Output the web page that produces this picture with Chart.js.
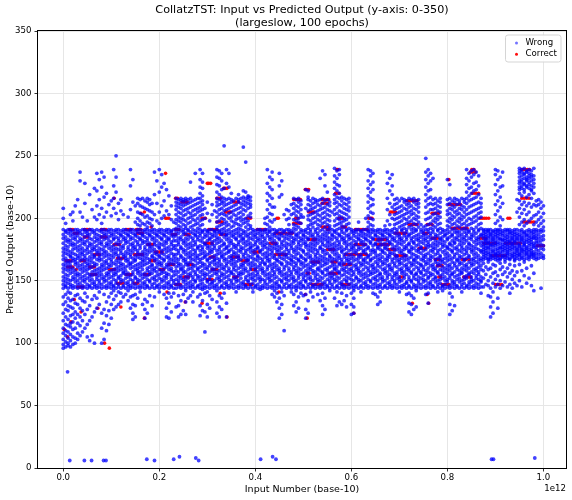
<!DOCTYPE html>
<html><head><meta charset="utf-8">
<script src="https://cdn.jsdelivr.net/npm/chart.js@4.4.0/dist/chart.umd.min.js"></script>
<style>html,body{margin:0;padding:0;background:#fff}canvas{display:block}</style>
</head><body>
<canvas id="c" width="572" height="500"></canvas>
<script>
const titleLines = ["CollatzTST: Input vs Predicted Output (y-axis: 0-350)", "(largeslow, 100 epochs)"];
const xTickValues = [0.0, 0.2, 0.4, 0.6, 0.8, 1.0];
const yTickValues = [0, 50, 100, 150, 200, 250, 300, 350];
const seriesNames = ["Wrong", "Correct"];

// Wrong predictions, column form "x:y y y ..." (x in units of 1e9)
const wrongColumns = [
"0:96 99 103 108 112 118 124 131 137 144 147 150 153 157 160 163 167 170 173 176 180 184 187 191 200 208",
"5:97 101 106 110 115 121 127 133 139 145 146 149 152 155 159 162 165 168 172 175 178 182 185 189 190 196",
"10:98 100 104 109 114 119 126 130 136 141 144 148 151 154 158 161 164 166 171 174 177 181 183 188 191",
"15:97 102 107 113 116 122 129 134 140 145 147 150 156 159 162 165 169 170 173 179 182 186 189 191 203",
"20:99 105 111 117 123 128 135 144 146 151 153 157 160 166 168 172 175 178 180 184 187 190 198 205",
"25:100 104 112 120 125 132 138 145 149 152 155 158 163 165 167 171 176 179 183 185 188 191 210",
"30:103 108 116 123 131 139 144 147 150 154 156 161 164 168 170 174 177 181 186 189 191 215",
"35:106 114 121 128 136 145 148 152 155 159 162 166 169 172 175 178 182 184 188 190 205 230 237",
"40:109 118 126 134 144 146 150 153 157 160 163 167 171 173 176 180 183 187 191 201",
"45:112 123 133 140 145 149 151 154 158 161 165 168 170 174 179 181 185 189 191 212 228",
"50:105 115 127 137 144 147 152 156 159 162 164 167 172 175 177 182 186 188 190 198",
"55:102 118 130 145 146 150 153 155 160 163 166 169 173 178 180 184 187 191 219",
"60:106 121 135 144 148 151 154 157 161 165 168 171 174 176 179 183 189 191 207",
"65:100 125 138 145 147 149 155 158 162 164 169 170 175 177 181 185 188 190 201 224",
"70:128 136 144 146 151 153 156 159 163 167 172 174 178 182 184 187 191 199 210 222 236",
"75:131 141 145 148 150 154 157 160 166 168 170 173 176 180 183 186 190 203 215 231",
"80:100 112 124 144 147 152 155 158 161 163 167 171 175 179 181 185 189 191 196 208 225 237",
"85:103 116 127 139 145 149 151 153 159 162 165 169 172 174 177 183 186 188 191 201 217 233",
"90:110 122 133 144 146 150 154 156 160 164 166 170 173 178 180 184 187 190 205 220",
"95:115 126 137 145 148 152 155 157 161 163 168 171 176 179 182 185 189 191 211",
"100:120 131 140 144 147 149 153 158 162 165 167 170 174 177 181 186 188 191 202 214",
"105:127 135 142 145 146 151 154 156 159 164 169 172 175 178 183 184 187 190 208 216 226 239",
"110:129 138 144 148 150 155 157 160 163 166 171 173 176 180 185 189 191 204 221 233 250",
"115:131 141 145 147 152 153 158 161 165 168 170 175 179 182 184 188 191 199 212",
"120:133 140 144 149 151 154 159 162 164 167 172 174 177 181 186 187 190 206 215",
"125:137 145 146 150 156 157 160 163 169 171 176 178 183 185 189 191 203",
"130:139 144 148 152 155 158 161 166 168 170 173 180 182 184 188 191",
"135:134 142 145 147 149 153 156 162 165 167 172 175 177 181 186 187 190 201",
"140:128 137 144 146 151 154 160 163 164 169 171 174 179 183 185 189 191 207 226 239",
"145:119 124 131 138 145 148 150 155 157 161 165 168 173 176 178 180 184 188 191 213 231",
"150:121 130 139 144 147 152 153 159 162 166 167 170 175 177 182 186 187 190 197 210",
"155:136 145 149 151 156 158 160 163 169 172 174 179 181 185 189 191 195 200 205 212 216",
"160:141 144 146 150 154 157 161 164 168 171 176 178 183 184 188 191 194 198 204 210 215",
"165:131 145 148 152 155 159 162 165 167 170 173 180 182 186 187 190 196 203 209 216",
"170:120 127 135 144 147 149 153 156 163 166 169 172 175 177 181 185 189 191 195 201 208 214",
"175:124 133 145 146 151 154 158 160 164 168 171 174 179 182 184 188 191 193 197 202 207 213 216",
"180:138 144 149 150 155 157 161 165 167 173 176 178 180 186 187 190 196 200 206 211 215",
"185:130 145 147 152 156 159 162 163 169 170 174 177 183 185 189 191 194 199 205 212",
"190:137 144 148 151 153 158 160 166 168 172 175 179 181 184 188 191 203 219 237",
"195:145 146 150 154 157 161 164 167 171 173 178 182 186 187 190 198 212 230",
"200:141 144 147 152 155 159 163 165 169 170 176 177 180 185 189 191 196 205 221 239",
"205:145 149 151 156 158 162 164 168 172 174 179 183 184 188 191 200 210 225 235",
"210:139 144 146 150 153 157 160 166 167 171 175 178 181 186 187 190 202 214 228",
"215:121 128 136 145 148 152 154 156 161 163 169 173 176 180 182 185 189 191 206 223",
"220:120 132 140 144 147 149 155 159 162 165 168 170 174 177 183 184 188 191 203 218",
"225:125 137 145 146 151 153 158 160 164 167 172 175 179 181 186 189 190 199 210",
"230:140 144 148 150 154 157 163 166 169 171 176 178 182 185 187 191 197",
"235:129 144 147 151 155 158 161 165 168 171 175 178 182 186 189 192 196 199 203 207 210 213 216",
"240:121 130 138 145 148 150 153 157 162 164 167 172 174 179 181 184 188 191 194 198 201 205 209 212 215",
"245:123 134 144 146 152 154 159 160 163 169 170 176 177 183 185 190 193 197 200 204 208 211 214 216",
"250:126 139 145 149 151 156 158 161 166 168 173 175 180 182 187 189 191 195 199 202 206 210 213 215",
"255:123 133 142 144 147 150 153 157 163 165 167 171 174 178 181 184 188 192 194 198 203 207 211 214 216",
"260:136 145 148 152 155 159 162 164 169 172 176 179 183 186 190 191 196 200 205 208 212 215",
"265:138 144 146 149 154 156 160 165 168 170 173 177 180 185 189 193 197 201 204 209 213 216 229",
"270:133 141 145 147 151 153 158 161 163 167 171 175 178 182 184 188 191 194 199 202 206 210 214",
"275:144 149 150 155 157 162 166 169 172 174 179 181 186 187 190 195 198 203 207 211 215 236",
"280:137 145 146 152 154 159 160 164 168 170 176 177 183 185 189 192 196 200 205 208 212 216",
"285:122 130 139 144 147 150 153 157 161 165 167 171 174 178 182 186 188 191 194 198 202 206 209 213 216 220 225 231 239",
"290:126 134 143 145 148 151 155 158 162 164 168 172 175 177 181 184 189 190 195 199 203 207 211 214 218 224 229 236",
"295:109 125 140 144 146 152 154 156 160 163 169 170 173 179 180 185 187 191 200 208",
"300:121 131 141 145 149 150 155 159 161 166 167 171 176 178 182 186 189 190 204 213",
"305:128 138 144 147 151 153 157 162 164 168 172 174 177 183 184 188 191 198",
"310:135 145 148 149 154 158 160 165 169 173 175 179 181 185 187 191 203 211",
"315:144 146 150 156 159 163 166 167 170 176 178 182 186 189 190 206",
"320:124 133 142 145 147 152 155 157 161 164 168 171 174 180 183 185 188 191 193 197 201 205 210 213 216 221 227 233 239",
"325:121 129 138 144 149 151 153 158 162 165 167 172 175 177 181 184 189 190 194 198 203 207 211 215 219 226 232 238",
"330:127 136 145 146 150 154 156 160 163 169 170 173 178 182 187 188 191 195 200 204 208 212 214 217 223 230 236",
"335:140 144 148 152 155 159 161 166 168 171 175 179 180 185 189 192 196 199 203 206 210 213 216 224 258",
"340:121 132 145 147 149 153 157 162 164 167 172 176 177 183 186 187 190 194 197 202 207 211 215 228 239",
"345:144 146 151 154 158 160 165 169 173 174 178 181 184 188 191 195 200 204 208 212 216 225 236",
"350:145 148 150 156 157 163 166 168 170 175 180 182 186 189 193 198 201 205 209 213 215 220",
"355:144 147 152 155 159 161 164 167 171 173 177 179 185 187 190 194 197 203 206 210 214",
"360:141 145 149 151 153 158 162 165 169 172 176 178 183 184 188 191 196 199 202 207 211 216",
"365:144 146 150 154 156 160 166 168 170 174 179 181 186 189 192 195 200 204 208 213 215 219",
"370:145 148 152 155 157 161 163 167 173 175 177 182 185 187 191 194 198 201 205 209 212 216",
"375:144 147 149 156 159 162 164 169 171 176 180 183 184 188 190 196 199 203 207 211 214 217 222 257",
"380:145 146 151 153 158 160 165 168 172 174 178 181 186 189 193 197 200 206 210 213 216 221 245",
"385:144 149 150 154 157 163 166 167 170 175 179 182 185 187 191 195 198 202 208 212 215 217 218",
"390:145 147 152 155 159 161 164 169 173 176 177 180 184 188 192 194 201 204 209 211 214 217",
"395:141 144 148 151 153 156 162 165 168 171 174 178 183 186 189 191",
"400:145 146 150 154 158 160 163 167 172 175 179 181 185 187 190",
"405:144 147 152 155 157 161 166 169 170 176 177 182 184 188 191",
"410:143 145 149 151 153 159 162 164 168 173 174 180 183 186 189 191",
"415:144 146 151 156 158 160 165 167 171 175 178 181 185 187 190",
"420:145 148 150 154 157 163 164 169 172 177 179 182 184 189 191 196 200",
"425:144 147 152 155 159 161 166 168 170 173 176 180 186 188 191 195 201 207 214 220 228 239",
"430:145 149 151 153 156 162 165 167 171 175 178 183 185 189 190 193 198 204 211 218 225 233",
"435:139 144 146 150 154 158 160 163 169 172 174 177 181 184 187 191 197 203 209 216 223 231 237",
"440:137 142 145 148 152 155 157 161 164 168 170 176 179 182 186 188 191 199 209",
"445:133 140 144 147 149 153 159 162 166 167 173 175 178 180 185 189 190",
"450:120 128 136 145 146 151 156 158 160 165 169 171 174 177 183 184 187 191 217 226 236",
"455:123 131 141 144 149 150 154 157 163 164 168 172 176 179 181 186 188 191 219 230",
"460:110 138 145 147 152 155 159 161 167 170 173 178 182 185 189 190 203",
"465:144 148 151 153 156 162 165 169 171 175 177 180 184 187 191 199 207",
"470:145 146 150 154 158 160 164 168 172 174 179 183 186 189 191 195 200 206",
"475:141 144 147 152 155 157 163 166 167 170 176 178 181 185 188 190 203 211",
"480:130 139 145 149 151 153 159 161 165 169 173 175 180 182 184 189 192 195 199 204 208 212 216",
"485:125 133 142 144 146 150 156 158 162 164 168 171 174 177 183 186 187 191 194 198 202 206 210 215",
"490:128 137 145 148 152 154 157 160 166 167 172 176 179 181 185 188 193 197 200 205 209 213 216",
"495:140 144 147 149 155 159 163 165 169 170 175 178 182 184 189 191 196 201 203 207 211 214",
"500:138 145 146 151 153 156 161 164 168 173 174 180 183 186 187 190 201",
"505:120 127 139 144 149 150 154 158 162 166 167 171 177 179 181 185 189 191 208 223",
"510:124 134 145 147 152 155 157 160 163 169 172 175 178 183 184 188 192 194 199 202 206 211 215 217 222",
"515:141 144 148 151 153 159 161 165 168 170 174 177 180 186 189 191 195 198 203 207 210 214",
"520:137 145 146 150 156 158 162 164 167 173 176 179 182 185 187 193 196 200 204 208 212 216",
"525:144 147 152 154 157 163 166 169 171 175 178 181 184 189 191 197 201 205 209 213 215",
"530:139 145 149 151 155 159 160 165 168 172 174 180 183 186 188 192 195 199 203 206 211 214",
"535:134 144 146 150 153 158 161 164 167 170 176 177 182 185 190 194 198 202 207 210 215 232",
"540:123 130 140 145 148 152 156 157 162 166 169 173 175 179 181 184 187 191 196 200 204 208 212 216 238",
"545:127 136 144 147 149 154 159 163 165 168 171 174 178 183 186 189 193 197 201 205 209 214 226 235",
"550:145 146 151 155 158 160 164 167 172 177 180 182 185 188 191 195 199 203 207 211 215 221",
"555:142 144 148 150 153 156 161 166 169 170 175 178 181 184 189 192 194 198 202 206 210 213",
"560:145 147 152 154 157 162 165 168 173 176 179 183 186 187 191 205",
"565:136 144 149 151 155 159 160 163 167 171 174 177 180 185 189 190 194 198 203 207 212 215 219 224 229 234 240",
"570:130 141 145 146 150 153 158 161 166 169 172 175 178 182 184 188 191 195 200 204 209 213 217 222 227 232 238",
"575:133 144 148 152 156 157 163 164 168 170 176 179 181 186 187 192 196 199 202 206 211 216 220 226 235 239",
"580:131 140 145 147 149 154 159 162 165 167 173 174 177 183 185 189 191 194 197 201 205 210 214 217",
"585:134 144 146 151 155 158 160 164 169 171 175 180 182 184 188 193 198 200 204 208 212 216",
"590:129 138 145 149 150 153 157 161 166 168 172 176 178 181 186 190 191 195 199 203 207 211 215",
"595:144 147 152 156 159 163 165 167 170 174 179 183 185 187 192 196 201 206 209 213 216",
"600:123 131 140 145 148 151 154 158 160 164 168 171 175 177 180 184 189 191",
"605:124 129 136 142 144 146 150 155 157 162 166 169 173 176 178 182 186 188 190",
"610:145 147 152 153 159 161 163 167 172 174 179 181 185 189 191",
"615:144 149 151 156 158 160 165 168 170 175 177 183 184 187 191 197",
"620:141 145 146 150 154 157 162 164 169 171 176 180 182 186 189 190",
"625:144 148 152 155 159 163 166 167 173 174 178 181 185 188 191",
"630:145 147 149 153 156 161 165 168 172 175 179 183 184 187 191 200",
"635:144 146 151 154 158 160 164 169 170 176 177 182 186 189 190 193 197 202 208 213 218 224 230 239",
"640:145 149 150 155 157 162 166 167 171 174 180 181 185 188 191 195 200 205 210 216 221 227 234 238",
"645:140 144 147 152 156 159 161 163 168 173 175 178 183 184 189 191 194 199 204 211 215 223 229 236",
"650:139 145 148 151 153 157 160 165 169 172 174 179 180 186 187 190",
"655:131 137 144 146 150 154 158 162 164 167 170 176 177 182 185 189 191",
"660:133 141 145 147 152 155 156 161 166 168 171 175 178 181 184 188 191",
"665:144 149 151 153 159 163 165 169 173 174 179 183 186 187 190",
"670:145 146 150 156 158 160 164 167 172 176 177 180 185 189 191 194",
"675:144 148 152 154 157 162 166 168 170 175 178 182 184 188 191 198 207 216 228 237",
"680:145 147 149 155 159 161 163 169 171 173 180 181 186 187 190 195 203 212 222 232",
"685:144 146 151 153 158 160 165 167 172 176 179 183 185 189 191 200 209 219 226 235",
"690:145 148 150 154 156 162 164 168 171 174 177 182 184 188 192 195 199 203 207 211 215",
"695:144 147 152 155 157 161 166 169 170 175 178 181 186 189 191 196 200 204 208 212 216",
"700:141 145 149 151 153 159 163 165 167 173 176 180 183 185 187 193 197 201 205 209 214",
"705:144 146 150 156 158 160 164 168 172 174 179 182 184 190 191 194 198 202 206 210 216",
"710:145 147 152 154 157 162 166 169 171 175 177 181 186 188 192 195 200 203 208 213 215",
"715:139 144 148 149 155 159 161 163 167 170 176 178 183 185 189 191 196 199 204 207 211 214",
"720:125 132 140 145 146 151 153 158 160 165 168 173 174 179 180 186 187 193 197 201 205 209 212 216",
"725:123 131 138 144 149 150 156 157 162 164 169 172 175 177 182 184 188 191 194 198 203 206 210 215",
"730:127 136 145 147 152 154 159 163 166 167 171 176 180 181 185 189 192 196 200 204 208 213 216",
"735:129 142 144 146 151 155 156 161 165 168 170 174 178 183 186 190 191 195 199 202 207 211 214",
"740:145 148 150 153 158 160 164 169 173 175 179 182 184 187 193 197 201 205 209 212 215",
"745:144 147 152 156 157 162 163 167 172 176 177 181 185 189 191 195",
"750:145 149 151 154 159 161 166 168 170 174 180 183 186 188 190 193",
"755:139 144 146 150 155 158 163 165 169 171 175 178 182 184 187 191 194 199 204 209 214 219 225 231 237 248",
"760:132 140 145 148 152 153 157 160 164 167 172 177 179 181 185 189 191 195 200 205 211 216 222 228 234 239",
"765:144 147 149 154 156 162 166 168 170 174 178 183 186 188 192 196 201 207 212 217 223 230 236",
"770:145 146 151 155 159 161 163 169 173 175 177 180 184 189 191 194 198 203 207 211 215 232",
"775:144 149 152 153 158 160 165 167 171 176 179 182 185 187 193 197 200 204 208 212 216",
"780:141 145 147 150 156 157 162 164 168 172 174 178 181 186 190 191 195 199 202 206 210 214",
"785:144 148 151 154 159 163 166 169 170 175 180 183 184 188 192 196 201 205 209 213 216",
"790:142 145 146 152 155 158 161 165 167 173 177 179 182 185 189 191",
"795:144 147 150 153 157 160 164 168 171 174 178 181 186 187 190",
"800:145 149 151 156 159 162 166 169 172 176 177 183 184 188 191 194 198 203 206 211 215 231",
"805:123 131 140 144 146 152 154 158 161 163 167 170 175 179 180 185 189 193 197 200 204 208 212 216 227",
"810:126 137 145 148 150 155 156 160 165 168 173 174 178 182 186 187 191 195 199 202 207 210 214",
"815:130 144 147 149 153 157 162 164 169 171 176 180 181 184 189 192 196 201 205 209 213 216",
"820:145 146 151 154 159 161 166 167 172 175 177 183 185 188 190 194 198 203 206 211 215",
"825:144 149 152 155 158 163 165 168 170 174 179 182 186 189 193 197 200 204 208 212 214",
"830:141 145 147 150 156 157 160 164 169 173 176 178 181 184 187 191 195 199 202 207 210 216",
"835:144 148 151 153 159 162 166 167 171 175 180 183 185 189 192 196 201 205 209 213 215",
"840:145 146 152 154 158 161 163 168 172 174 177 182 186 188 191 194 198 203 207 212 216 221 227 232 239",
"845:144 147 149 155 156 160 165 169 170 176 179 180 184 189 190 195 200 204 209 214 218 224 230 236",
"850:145 149 151 153 157 162 164 167 173 175 178 183 185 187 192 196 199 205 210 215 220 225 233 238",
"855:144 146 150 156 159 163 166 168 171 174 177 181 186 189 191 197 201 206 211 216 222 228 235 239",
"860:145 148 152 154 158 160 165 169 172 176 179 182 184 188 193 198 202 207 212 217 223 229 237",
"865:144 147 151 155 157 161 164 167 170 175 180 183 185 190 191 195 200 204 208 213 219 226 234",
"870:140 145 149 150 153 159 162 166 168 173 174 178 181 186 187 192 196 201 205 209 212 216",
"875:145 152 158 164 167 169 171 173 175 177 179 181 184 186 188 190 191",
"880:147 155 161 168 170 172 174 176 178 180 182 183 185 187 189 191",
"885:138 146 150 159 165 167 168 171 173 176 177 180 181 184 186 189 190 191",
"890:121 129 137 144 153 160 167 169 170 172 175 178 179 182 185 187 188 191",
"895:124 133 141 148 156 163 168 170 173 174 177 179 181 183 184 186 189 190",
"900:145 151 157 162 167 169 171 172 175 178 180 182 185 187 189 191 196 203 211 219 227 235 239",
"905:128 136 147 154 166 168 170 172 174 176 179 181 184 186 188 190 191 198 206 214 222 231 238",
"910:144 150 159 164 167 168 171 173 176 177 180 183 184 187 189 191 194 201 209 217 225 233",
"915:146 155 161 169 170 173 175 177 179 182 183 186 188 190 199 212 226 237",
"920:149 157 165 167 169 171 174 176 178 180 182 184 186 189 191",
"925:145 153 160 168 170 172 173 175 177 179 181 183 185 187 190 191",
"930:140 147 156 163 167 168 171 174 176 178 181 182 185 188 189 191",
"935:144 151 158 169 170 172 175 177 179 180 183 184 186 188 190",
"940:148 154 162 166 167 169 171 173 176 178 181 182 185 187 189 191",
"945:146 157 168 170 172 174 175 177 180 183 184 186 188 191 205 215",
"950:150 163 167 170 171 173 176 178 179 182 185 187 190 195 201 208 214 220 223 225 228 230 233 236 238 240",
"955:145 158 168 169 172 174 175 177 181 183 184 186 189 191 197 204 211 218 224 226 229 231 234 237 239",
"960:154 165 167 170 173 175 178 179 180 182 185 188 189 194 199 207 213 221 223 227 228 232 235 236 240",
"965:148 160 168 171 172 174 176 177 181 183 186 187 190 196 203 210 217 225 226 230 231 233 237 238",
"970:152 167 169 170 173 175 178 180 182 184 186 189 191 198 205 212 219 224 227 229 232 234 236 239",
"975:146 162 169 171 172 174 176 179 181 183 185 188 190 200 209 216 222 223 226 230 233 235 238",
"980:142 156 168 170 171 173 177 178 180 184 185 187 189 191 195 202 211 220 225 228 231 234 240",
"985:167 169 172 175 177 180 182 184 186 189 191 197 203 210 214",
"990:168 171 174 178 181 184 187 190 194 199 205 211 215",
"995:144 169 172 176 179 182 185 189 191 196 201 208 213",
"1000:168 170 175 178 183 186 190 193 198 204 210"
];
// Wrong predictions, row form "y:x x x ..." (isolated low outliers)
const wrongRows = [
"6:13.5 44 59 84 89 190 282",
"7:174 230 411 443 892 896",
"8:276 982",
"9:242 436",
"77:9"
];
// Correct predictions, row form "y:x x x ..."
const correctRows = [
"239:570 572 851 855 955 959 963 967 971",
"237:848 852 858",
"236:213",
"231:803",
"228:300 303 307",
"224:334 337 341",
"223:504 507 511",
"220:567 570 574 852 856 860 865",
"216:106 234 238 320 323 327 955 960 965 970",
"215:480 484 488 492 494 539 543 547 551 553",
"214:716 720 724 728 733 737",
"213:247 251 255 258 355 358 362 365",
"212:539 543 547 550",
"211:803 807 811 815 819 823 827",
"205:169 338 341 345 348 511 515 519 522 681 685 689 692",
"204:162 768 772 776 780 782",
"200:213 216 220 289 292 296 383 386 390 445 448 484 488 574 578 581 636 640 643 869 873 877 881 886 926 930",
"197:320 324 328 331 959 963 967 971 975 980",
"196:480 484 488 492 494",
"195:720 724 728 733 737 758 762 768",
"193:183 539 543 547 551 581 585 588",
"192:810 814 818 822 826 830 834 838 841",
"191:13 16 20 44 48 51 55 79 83 86 89 131 135 138 141 152 155 159 162 234 238 241 303 307 310 314 317 320 404 408 412 416 421 550 553 608 612 616 620 624 629 633",
"188:23 27 30 155 159 162 165 442 446 450 454 458 463 470 474 477 692 696 700 704 708 713 751 755 758",
"187:227 231 234 254 258 262 327 331 337",
"185:44 48 51 79 83 86 89",
"184:768 772 776 779 869 873 877 880",
"183:511 515 519 522 525 650 654 658 662 667 671",
"180:296 300 303 307 310 431 435 438 442 876 880 884 888 892 896 900 921 925 929 933 937 941 945 949 952",
"179:106 110 113 117 176 180 183 186 608 612 616 620 625 629 654 658 662 666 670 674 678",
"178:987 991 995 1000",
"176:741 745 749 754",
"175:550 554 558 563 678 682 686 690",
"173:192 196 200 203 206 397 400 404 407",
"171:65 68 72 75 148 152 155 159 162 165 442 446 450 454 458 463 588 592 596 600 604 608 615 619 623 627 631",
"170:692 696 700 704 708 713 893 897 901 905 909 913 917 921",
"169:306 310 314 352 356 360 365",
"168:113 117 120 124",
"167:775 779 783 831 835 839 845",
"166:6 10 13 16 37 41 44 183 186 190 372 376 380 383",
"165:518 522 526 530 532 560 564 568",
"163:220 224 227 230 261 265 268 584 588 592 596 598",
"162:779 782 786 789",
"161:9 13 16 20 55 58 62 65",
"159:27 96 100 103 107 202 206 209 310 314 317 320 393 397 400",
"156:508 512 556 560 564 568 570",
"155:58 62 65 68 131 134 138 141 169 172 176 179",
"153:251 254 258 261 355 358 362 702 706 782 786 834 838 842 846 848",
"151:300 304 307 310",
"148:113 117 120 124 148 152 155",
"147:234 238 241 244 379 383 386 390 393 518 522 526 530 535 539 581 585 589 593 595 789 793 797 801 803 900 904 908 913",
"145:30 34 37 41",
"141:216 449",
"140:327",
"139:504 758",
"135:23",
"133:254",
"132:289 727 761",
"129:120",
"128:72",
"125:37",
"124:605",
"121:341",
"120:169 508",
"117:16",
"111:2",
"105:9",
"100:86",
"96:96"
];

function fromColumns(list){
  const pts = [];
  list.forEach(s => { const [xs, ys] = s.split(':'); const x = parseFloat(xs) / 1000;
    ys.trim().split(/\s+/).forEach(v => pts.push({x: x, y: parseFloat(v)})); });
  return pts;
}
function fromRows(list){
  const pts = [];
  list.forEach(s => { const [ys, xs] = s.split(':'); const y = parseFloat(ys);
    xs.trim().split(/\s+/).forEach(v => pts.push({x: parseFloat(v) / 1000, y: y})); });
  return pts;
}
const wrongPts = fromColumns(wrongColumns).concat(fromRows(wrongRows));
const correctPts = fromRows(correctRows);

const FONT = 'DejaVu Sans';
Chart.defaults.font.family = FONT;
Chart.defaults.color = '#000';

const BLUE = 'rgba(0,0,255,0.74)';
const RED = 'rgba(255,0,0,0.95)';

const decor = {
  id: 'decor',
  afterDraw(chart){
    const ctx = chart.ctx, a = chart.chartArea;
    ctx.save();
    ctx.strokeStyle = '#000'; ctx.lineWidth = 1;
    ctx.strokeRect(Math.round(a.left) - 0.5, Math.round(a.top) - 0.5, Math.round(a.right - a.left) + 1, Math.round(a.bottom - a.top) + 1);
    const bx = a.right - 60.5, by = a.top + 4, bw = 55.5, bh = 27, r = 2.5;
    ctx.beginPath();
    ctx.moveTo(bx + r, by); ctx.lineTo(bx + bw - r, by); ctx.quadraticCurveTo(bx + bw, by, bx + bw, by + r);
    ctx.lineTo(bx + bw, by + bh - r); ctx.quadraticCurveTo(bx + bw, by + bh, bx + bw - r, by + bh);
    ctx.lineTo(bx + r, by + bh); ctx.quadraticCurveTo(bx, by + bh, bx, by + bh - r);
    ctx.lineTo(bx, by + r); ctx.quadraticCurveTo(bx, by, bx + r, by); ctx.closePath();
    ctx.fillStyle = 'rgba(255,255,255,0.85)'; ctx.fill();
    ctx.strokeStyle = '#d5d5d5'; ctx.lineWidth = 1; ctx.stroke();
    const cols = ['rgba(0,0,255,0.55)', RED];
    ctx.font = '8.6px "' + FONT + '"'; ctx.textBaseline = 'middle'; ctx.textAlign = 'left';
    seriesNames.forEach((n, i) => {
      const yy = by + 8 + i * 11.2;
      ctx.fillStyle = cols[i]; ctx.beginPath(); ctx.arc(bx + 11, yy, 1.5, 0, Math.PI * 2); ctx.fill();
      ctx.fillStyle = '#000'; ctx.fillText(n, bx + 20, yy);
    });
    ctx.textAlign = 'right'; ctx.textBaseline = 'middle'; ctx.fillStyle = '#000';
    ctx.fillText('1e12', a.right, 489);
    ctx.restore();
  }
};

new Chart(document.getElementById('c'), {
  type: 'scatter',
  data: { datasets: [
    { label: seriesNames[0], data: wrongPts, backgroundColor: BLUE, borderWidth: 0, pointRadius: 1.9 },
    { label: seriesNames[1], data: correctPts, backgroundColor: RED, borderWidth: 0, pointRadius: 1.8 }
  ]},
  options: {
    responsive: false, animation: false, events: [],
    layout: { padding: { left: 0, right: 6, top: 0, bottom: 0 } },
    plugins: {
      legend: { display: false },
      tooltip: { enabled: false },
      title: { display: true, text: titleLines, fullSize: false, color: '#000',
        font: { family: FONT, size: 11.2, weight: 'normal', lineHeight: 1.17 },
        padding: { top: 3.5, bottom: 1.3 } }
    },
    scales: {
      x: { type: 'linear', min: -0.0526, max: 1.047,
        afterBuildTicks: s => { s.ticks = xTickValues.map(v => ({ value: v })); },
        afterFit: s => { s.height = 32; },
        ticks: { callback: v => Number(v).toFixed(1), font: { size: 8.6 }, color: '#000', padding: 1.5, maxRotation: 0 },
        grid: { color: '#e6e6e6', lineWidth: 1, tickColor: '#000', tickLength: 3.5, tickWidth: 0.8 },
        border: { display: false },
        title: { display: true, text: 'Input Number (base-10)', font: { size: 9.5 }, color: '#000', padding: { top: 0, bottom: 5 } }
      },
      y: { type: 'linear', min: 0, max: 350,
        afterBuildTicks: s => { s.ticks = yTickValues.map(v => ({ value: v })); },
        afterFit: s => { s.width = 38; },
        ticks: { font: { size: 8.6 }, color: '#000', padding: 3 },
        grid: { color: '#e6e6e6', lineWidth: 1, tickColor: '#000', tickLength: 3.5, tickWidth: 0.8 },
        border: { display: false },
        title: { display: true, text: 'Predicted Output (base-10)', font: { size: 9.5 }, color: '#000', padding: { top: 5, bottom: 0 } }
      }
    }
  },
  plugins: [decor]
});
</script>
</body></html>
